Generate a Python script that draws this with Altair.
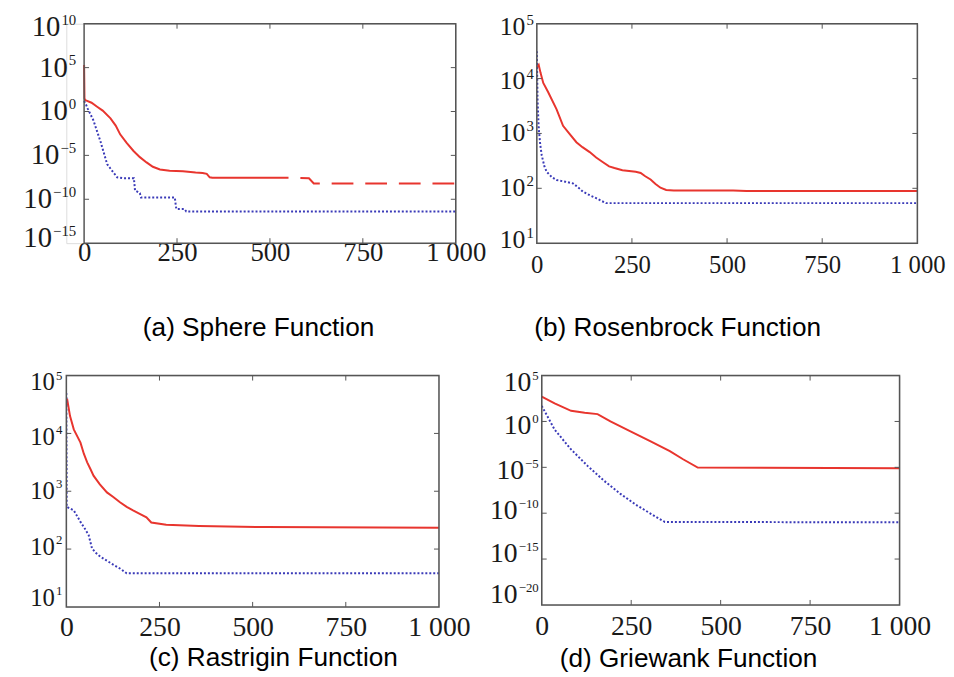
import altair as alt
import pandas as pd

# ---------------- data (iteration, log10 of fitness) ----------------
ITER_TICKS = [0, 250, 500, 750, 1000]

# (a) Sphere
a_exps = [10, 5, 0, -5, -10, -15]
a_red_iter = [0, 1, 3, 20, 35, 50, 71, 85, 97, 115, 133, 150, 168, 185, 204, 230,
              266, 300, 319, 330, 338, 345, 550]
a_red_log = [5.3, 1.5, 1.3, 1.0, 0.54, 0.1, -0.78, -1.6, -2.6, -3.6, -4.5, -5.2, -5.8,
             -6.3, -6.6, -6.75, -6.8, -6.95, -7.0, -7.1, -7.5, -7.55, -7.55]
a_red2_iter = [550, 605, 618, 1000]
a_red2_log = [-7.55, -7.6, -8.2, -8.2]
a_blue_iter = [0, 5, 10, 25, 44, 62, 78, 89, 105, 134, 137, 150, 153, 244, 248, 270,
               275, 1000]
a_blue_log = [1.2, 0.8, 0.3, -1.0, -3.4, -6.0, -6.9, -7.5, -7.6, -7.6, -9.0, -9.3,
              -9.8, -9.8, -11.1, -11.1, -11.4, -11.4]

# (b) Rosenbrock
b_exps = [5, 4, 3, 2, 1]
b_red_iter = [0, 5, 10, 17, 30, 52, 69, 85, 104, 120, 139, 156, 173, 190, 204, 225,
              260, 273, 285, 299, 312, 325, 340, 360, 516, 551, 1000]
b_red_log = [4.2, 4.25, 4.1, 3.92, 3.75, 3.44, 3.14, 3.0, 2.84, 2.75, 2.66, 2.56, 2.48,
             2.4, 2.37, 2.33, 2.30, 2.28, 2.22, 2.16, 2.08, 2.01, 1.97, 1.96, 1.96,
             1.95, 1.95]
b_blue_iter = [0, 2, 5, 9, 13, 20, 26, 40, 52, 75, 95, 108, 121, 140, 156, 170, 182,
               1000]
b_blue_log = [4.5, 3.6, 3.1, 2.8, 2.6, 2.4, 2.3, 2.2, 2.15, 2.12, 2.09, 2.02, 1.94,
              1.87, 1.82, 1.77, 1.73, 1.73]

# (c) Rastrigin
c_exps = [5, 4, 3, 2, 1]
c_red_iter = [0, 2, 10, 20, 38, 47, 56, 65, 73, 90, 109, 126, 144, 162, 179, 197, 215,
              228, 268, 356, 533, 1000]
c_red_log = [4.53, 4.6, 4.3, 4.07, 3.84, 3.65, 3.5, 3.38, 3.27, 3.12, 2.98, 2.9, 2.81,
             2.73, 2.67, 2.61, 2.55, 2.46, 2.42, 2.4, 2.38, 2.37]
c_blue_iter = [0, 1, 20, 38, 50, 60, 69, 80, 91, 126, 145, 162, 1000]
c_blue_log = [4.7, 2.73, 2.67, 2.47, 2.35, 2.24, 2.01, 1.93, 1.87, 1.73, 1.66, 1.58, 1.58]

# (d) Griewank
d_exps = [5, 0, -5, -10, -15, -20]
d_red_iter = [0, 36, 82, 120, 156, 192, 248, 303, 358, 395, 436, 1000]
d_red_log = [2.7, 1.98, 1.16, 0.95, 0.8, 0.0, -1.07, -2.15, -3.23, -4.12, -5.02, -5.09]
d_blue_iter = [0, 36, 82, 128, 174, 220, 266, 312, 344, 1000]
d_blue_log = [1.7, -0.89, -3.05, -4.84, -6.46, -7.9, -9.15, -10.23, -10.95, -11.0]

# ---------------- styling ----------------
RED = "#e8352e"
BLUE = "#3a3ab8"
FRAME = "#555555"
TXT = "#1a1a1a"
SERIF = "Liberation Serif"
SANS = "Liberation Sans"
MINUS = "\u2212"
ONE = pd.DataFrame({"k": [0]})


def exp_text(e):
    return str(e).replace("-", MINUS)


def exp_width(e, fs):
    return sum(0.564 * fs if ch == "-" else 0.5 * fs for ch in str(e))


def panel(series, exps, caption, st):
    w, h, off = st["w"], st["h"], st["off"]
    ydom = [10.0 ** min(exps), 10.0 ** max(exps)]
    xenc = alt.X("iter:Q",
                 scale=alt.Scale(domain=[0, 1000], range=[off, off + w], nice=False,
                                 zero=False),
                 axis=alt.Axis(values=ITER_TICKS, format="d",
                               labelExpr="datum.value == 1000 ? '1 000' : datum.label",
                               grid=False, domain=False, ticks=False, tickSize=0,
                               labelFont=SERIF, labelFontSize=st["fx"], labelColor=TXT,
                               labelPadding=st["xpad"], labelFlush=False,
                               labelOverlap=False,
                               title=caption, titleFont=SANS, titleFontSize=26.5,
                               titleFontWeight="normal", titleColor="#000000",
                               titleX=off + st["capx"], titleY=st["capy"],
                               titleAlign="center", titleBaseline="middle"))
    yenc = alt.Y("val:Q", scale=alt.Scale(type="log", domain=ydom, nice=False),
                 axis=None)
    layers = []
    for it, lg, color, dash in series:
        df = pd.DataFrame({"iter": it, "val": [10.0 ** v for v in lg]})
        kw = dict(color=color, strokeWidth=2, clip=True)
        if dash:
            kw["strokeDash"] = dash[0]
            if dash[1]:
                kw["strokeDashOffset"] = dash[1]
        layers.append(alt.Chart(df).mark_line(**kw).encode(x=xenc, y=yenc))

    # frame box
    layers.append(alt.Chart(ONE).mark_rect(filled=False, stroke=FRAME, strokeWidth=1.5).encode(
        x=alt.value(off), x2=alt.value(off + w), y=alt.value(0), y2=alt.value(h)))

    # inward tick marks on all four sides
    xt = pd.DataFrame({"iter": ITER_TICKS[1:-1]})
    yt = pd.DataFrame({"val": [10.0 ** e for e in exps[1:-1]]})
    tk = dict(color=FRAME, strokeWidth=1)
    layers.append(alt.Chart(xt).mark_rule(**tk).encode(x=xenc, y=alt.value(h), y2=alt.value(h - 5)))
    layers.append(alt.Chart(xt).mark_rule(**tk).encode(x=xenc, y=alt.value(0), y2=alt.value(5)))
    layers.append(alt.Chart(yt).mark_rule(**tk).encode(y=yenc, x=alt.value(off), x2=alt.value(off + 5)))
    layers.append(alt.Chart(yt).mark_rule(**tk).encode(y=yenc, x=alt.value(off + w - 5), x2=alt.value(off + w)))

    # y tick labels "10" with a superscript exponent
    fy, fe, pad, eo = st["fy"], st["fe"], st["ypad"], st["eo"]
    for e, dy in zip(exps, st["ldy"]):
        tdf = pd.DataFrame({"val": [10.0 ** e], "base": ["10"], "ex": [exp_text(e)]})
        ew = exp_width(e, fe)
        layers.append(alt.Chart(tdf).mark_text(
            align="right", baseline="middle", font=SERIF, fontSize=fy, color=TXT,
            dy=dy).encode(y=yenc, x=alt.value(off - (pad + ew + 1)), text="base:N"))
        layers.append(alt.Chart(tdf).mark_text(
            align="right", baseline="middle", font=SERIF, fontSize=fe, color=TXT,
            dy=dy - eo).encode(y=yenc, x=alt.value(off - pad), text="ex:N"))

    # invisible spacer fixing the panel's left extent
    layers.append(alt.Chart(ONE).mark_rule(opacity=0).encode(
        x=alt.value(-st["left"]), x2=alt.value(off + w), y=alt.value(h / 2)))
    return alt.layer(*layers).properties(width=off + w, height=h)


ST_A = dict(w=376, h=222, off=18, fx=27, fy=29, fe=15, eo=7.5, xpad=-3, ypad=8,
            capx=176, capy=85, left=58, ldy=[3.5, 0, 0, 0, 0, -5])
ST_B = dict(w=385, h=222, off=0, fx=25, fy=26, fe=15, eo=7, xpad=10, ypad=3,
            capx=142, capy=85, left=50, ldy=[3.5, 2.5, 0, 0, -3])
ST_C = dict(w=377, h=234, off=0, fx=28, fy=25, fe=13, eo=7, xpad=7, ypad=4,
            capx=209, capy=51, left=58, ldy=[7, 3.5, 0, -2, -9])
ST_D = dict(w=362, h=232, off=0, fx=28, fy=28, fe=13, eo=7.5, xpad=8, ypad=3,
            capx=148, capy=54, left=55, ldy=[8, 5, 4, -2, -4.6, -10])

pa = panel([(a_red_iter, a_red_log, RED, None),
            (a_red2_iter, a_red2_log, RED, ([22, 12], 22)),
            (a_blue_iter, a_blue_log, BLUE, ([2, 2], 0))],
           a_exps, "(a) Sphere Function", ST_A)
pb = panel([(b_red_iter, b_red_log, RED, None),
            (b_blue_iter, b_blue_log, BLUE, ([2, 2], 0))],
           b_exps, "(b) Rosenbrock Function", ST_B)
pc = panel([(c_red_iter, c_red_log, RED, None),
            (c_blue_iter, c_blue_log, BLUE, ([2, 2], 0))],
           c_exps, "(c) Rastrigin Function", ST_C)
pd_ = panel([(d_red_iter, d_red_log, RED, None),
             (d_blue_iter, d_blue_log, BLUE, ([2, 2], 0))],
            d_exps, "(d) Griewank Function", ST_D)

chart = alt.concat(pa, pb, pc, pd_, columns=2, align="none",
                   spacing={"row": 28, "column": 0}).properties(
    padding=0).configure_view(stroke="transparent").configure(background="white")

chart.save("out.html", embed_options={"renderer": "svg", "actions": False})
